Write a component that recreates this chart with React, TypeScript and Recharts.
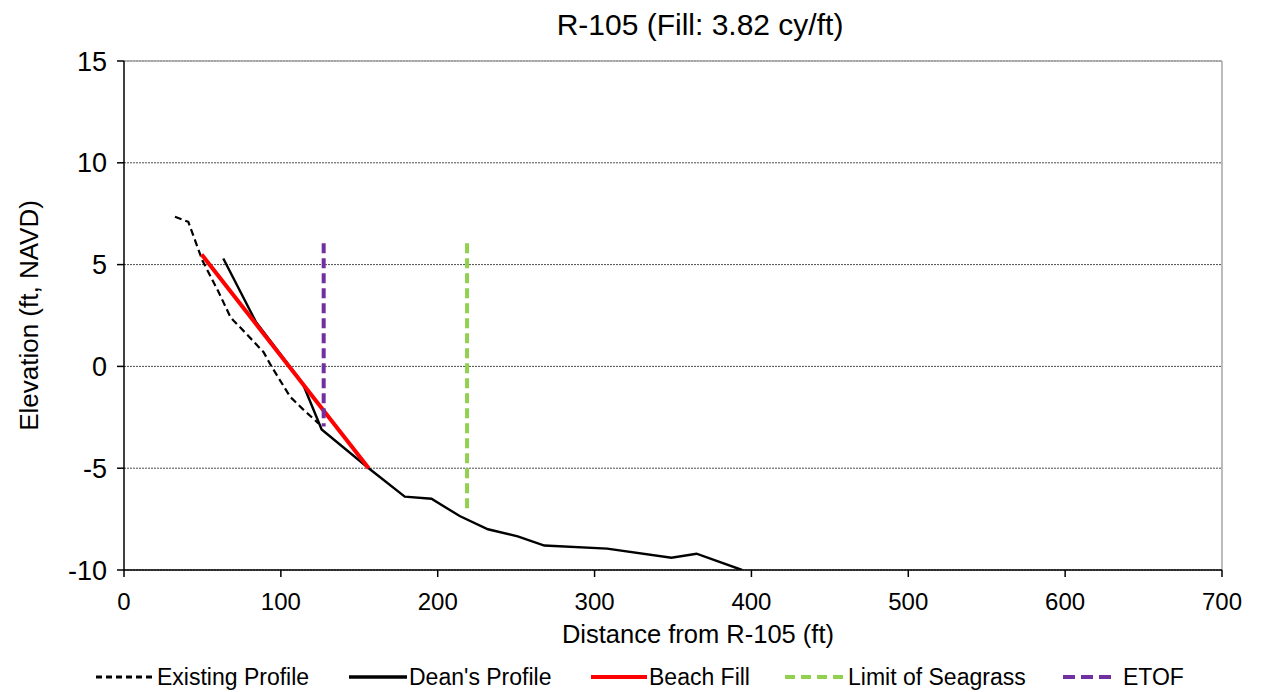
import React from 'react';
import {
  ComposedChart,
  Line,
  XAxis,
  YAxis,
  CartesianGrid,
  ReferenceLine,
  Legend,
} from 'recharts';

// Survey profile (distance ft, elevation ft NAVD)
const EXISTING_X = [32.5, 41, 50, 60, 68, 78, 89, 94, 102, 106, 114, 124];
const EXISTING_Y = [7.35, 7.1, 5.2, 3.7, 2.4, 1.6, 0.7, 0, -1, -1.5, -2.1, -2.8];

const DEAN_X = [63.3, 84, 114, 126, 156, 179, 196, 214, 232, 251, 268, 308, 349, 365, 394];
const DEAN_Y = [5.3, 2.2, -0.85, -3.1, -5.0, -6.4, -6.5, -7.35, -8.0, -8.35, -8.8, -8.95, -9.4, -9.2, -10];

const FILL_X = [49.5, 156];
const FILL_Y = [5.5, -5.0];

const SEAGRASS_X = [218.7, 218.7];
const SEAGRASS_Y = [6.05, -7.15];

const ETOF_X = [127.3, 127.3];
const ETOF_Y = [6.05, -2.95];

const X_TICKS = [0, 100, 200, 300, 400, 500, 600, 700];
const Y_TICKS = [-10, -5, 0, 5, 10, 15];

const toPoints = (xs: number[], ys: number[]) => xs.map((x, i) => ({ x, y: ys[i] }));

const FONT = '"Liberation Sans", Arial, sans-serif';

const SERIES = [
  { name: 'Existing Profile', color: '#000000', width: 2.2, dash: '7 4', data: toPoints(EXISTING_X, EXISTING_Y) },
  { name: "Dean's Profile", color: '#000000', width: 2.4, dash: undefined, data: toPoints(DEAN_X, DEAN_Y) },
  { name: 'Beach Fill', color: '#ff0000', width: 4, dash: undefined, data: toPoints(FILL_X, FILL_Y) },
  { name: 'Limit of Seagrass', color: '#92d050', width: 4, dash: '10 5', data: toPoints(SEAGRASS_X, SEAGRASS_Y) },
  { name: 'ETOF', color: '#7030a0', width: 4, dash: '10 5', data: toPoints(ETOF_X, ETOF_Y) },
];

// legend swatch start / end and text start (px), as laid out in the original
const LEGEND_LAYOUT = [
  { x0: 96, x1: 154, tx: 157, dash: '6 4', w: 3 },
  { x0: 349, x1: 407, tx: 409, dash: undefined, w: 3.5 },
  { x0: 591, x1: 647, tx: 649, dash: undefined, w: 4 },
  { x0: 785, x1: 843, tx: 848, dash: '10 6', w: 4 },
  { x0: 1063, x1: 1117, tx: 1123, dash: '12 6', w: 4 },
];

const renderLegend = () => (
  <div style={{ position: 'relative', width: 1263, height: 30, fontFamily: FONT }}>
    {SERIES.map((s, i) => {
      const l = LEGEND_LAYOUT[i];
      return (
        <React.Fragment key={s.name}>
          <svg
            style={{ position: 'absolute', left: l.x0, top: 11 }}
            width={l.x1 - l.x0}
            height={8}
          >
            <line
              x1={0}
              y1={4}
              x2={l.x1 - l.x0}
              y2={4}
              stroke={s.color}
              strokeWidth={l.w}
              strokeDasharray={l.dash}
            />
          </svg>
          <span
            style={{
              position: 'absolute',
              left: l.tx,
              top: 1,
              fontSize: 23,
              lineHeight: '28px',
              color: '#000',
              whiteSpace: 'nowrap',
            }}
          >
            {s.name}
          </span>
        </React.Fragment>
      );
    })}
  </div>
);

const App: React.FC = () => {
  return (
    <div
      style={{
        position: 'absolute',
        left: 0,
        top: 0,
        width: 1263,
        height: 692,
        background: '#fff',
        fontFamily: FONT,
      }}
    >
      <div
        style={{
          position: 'absolute',
          left: 700,
          top: 10,
          transform: 'translateX(-50%)',
          fontSize: 30,
          lineHeight: '30px',
          whiteSpace: 'nowrap',
          color: '#000',
        }}
      >
        R-105 (Fill: 3.82 cy/ft)
      </div>
      <ComposedChart
        width={1263}
        height={692}
        margin={{ top: 61, right: 41, left: 0, bottom: 0 }}
        style={{ fontFamily: FONT }}
      >
        <CartesianGrid vertical={false} stroke="#4d4d4d" strokeDasharray="2 1" />
        <XAxis
          type="number"
          dataKey="x"
          domain={[0, 700]}
          ticks={X_TICKS}
          allowDataOverflow
          height={92}
          axisLine={{ stroke: '#000', strokeWidth: 1.5 }}
          tickLine={{ stroke: '#000', strokeWidth: 1.5 }}
          tickSize={7}
          tickMargin={16}
          tick={{ fill: '#000', fontSize: 24 }}
          label={({ viewBox }: any) => (
            <text x={698} y={viewBox.y + 73} textAnchor="middle" fontSize={25.5} fill="#000">
              Distance from R-105 (ft)
            </text>
          )}
        />
        <YAxis
          type="number"
          dataKey="y"
          domain={[-10, 15]}
          ticks={Y_TICKS}
          allowDataOverflow
          width={124}
          axisLine={{ stroke: '#000', strokeWidth: 1.5 }}
          tickLine={{ stroke: '#000', strokeWidth: 1.5 }}
          tickSize={7}
          tickMargin={10}
          tick={{ fill: '#000', fontSize: 27 }}
          label={({ viewBox }: any) => {
            const cy = viewBox.y + viewBox.height / 2;
            return (
              <text
                x={38}
                y={cy}
                transform={`rotate(-90, 38, ${cy})`}
                textAnchor="middle"
                fontSize={26}
                fill="#000"
              >
                Elevation (ft, NAVD)
              </text>
            );
          }}
        />
        <ReferenceLine y={15} stroke="#a6a6a6" strokeWidth={1.5} />
        <ReferenceLine x={700} stroke="#a6a6a6" strokeWidth={1.5} />
        {SERIES.map((s) => (
          <Line
            key={s.name}
            name={s.name}
            data={s.data}
            dataKey="y"
            type="linear"
            stroke={s.color}
            strokeWidth={s.width}
            strokeDasharray={s.dash}
            dot={false}
            activeDot={false}
            isAnimationActive={false}
          />
        ))}
        <Legend
          verticalAlign="bottom"
          height={30}
          content={renderLegend}
          wrapperStyle={{ left: 0, width: 1263 }}
        />
      </ComposedChart>
    </div>
  );
};

export default App;
